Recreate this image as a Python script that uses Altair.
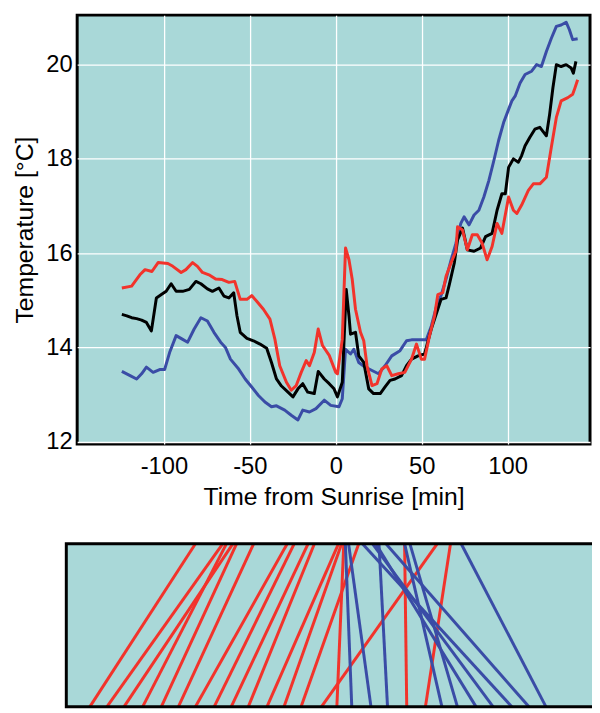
import altair as alt
import pandas as pd

# ---------------- top panel data (time from sunrise [min], temperature [deg C]) ----------------
blue_t = [-124.5, -119.7, -115.9, -113, -110.2, -106.3, -102.5, -99.6, -96.7, -92.9, -89.1, -86.2,
          -82.4, -78.5, -74.7, -70.9, -67, -64.2, -61.3, -56.5, -52.7, -48.9, -45, -41.2, -37.4,
          -34.5, -29.7, -25.9, -22, -19.2, -15.3, -11.5, -6.7, -2.9, 1.9, 3.8, 5.7, 8.6, 10.5,
          13.4, 17.2, 21.1, 24.9, 28.7, 32.6, 37.4, 41.2, 44.1, 49.8, 52.7, 55.6, 58.5, 61.3,
          64.2, 67.1, 69.9, 72.8, 74.7, 77.6, 80.5, 83.3, 86.2, 89.1, 92, 94.8, 97.7, 100.6,
          102.5, 104.4, 107.3, 110.2, 114, 116.9, 119.7, 122.6, 125.5, 128.4, 131.2, 134.1,
          136, 137.9, 140.8]
blue_temp = [13.49, 13.40, 13.33, 13.44, 13.58, 13.47, 13.53, 13.53, 13.89, 14.25, 14.17, 14.11,
             14.39, 14.63, 14.56, 14.32, 14.11, 14.00, 13.75, 13.54, 13.33, 13.16, 12.98, 12.84,
             12.74, 12.76, 12.67, 12.56, 12.46, 12.67, 12.63, 12.70, 12.88, 12.77, 12.74, 12.91,
             13.96, 13.86, 13.96, 13.68, 13.58, 13.51, 13.44, 13.61, 13.82, 13.93, 14.14, 14.16,
             14.16, 14.16, 14.45, 14.85, 15.10, 15.45, 15.85, 16.20, 16.63, 16.77, 16.60, 16.81,
             16.91, 17.19, 17.54, 17.96, 18.39, 18.77, 19.05, 19.23, 19.33, 19.61, 19.79, 19.86,
             20.00, 19.96, 20.28, 20.56, 20.81, 20.84, 20.90, 20.74, 20.53, 20.55]

black_t = [-124.5, -121.6, -118.8, -115.9, -113, -110.2, -107.3, -104.4, -101.5, -98.7, -95.8,
           -92.9, -89.1, -85.2, -81.4, -78.5, -74.7, -71.8, -68, -65.1, -62.2, -59.4, -57.5,
           -55.6, -51.7, -47.9, -44.1, -40.2, -37.4, -34.5, -31.6, -27.8, -24.9, -22, -19.2,
           -16.3, -12.5, -10.2, -6.7, -3.8, -1, 1, 3.8, 6.1, 7.7, 8.6, 11.5, 13.4, 16.3, 19.2,
           22, 25.9, 28.7, 31.6, 34.5, 38.3, 41.2, 44.1, 47.9, 51.7, 55.6, 59.4, 61.3, 64.2,
           66.1, 69, 70.9, 73.8, 76.6, 80.5, 84.3, 87.2, 91, 93.9, 96.7, 98.7, 100.6, 103.4,
           106.3, 108.2, 110.2, 113, 115.9, 118.8, 122.6, 124.5, 126.4, 128.4, 131.2, 134.1,
           137, 138.3, 139.8]
black_temp = [14.70, 14.67, 14.63, 14.61, 14.58, 14.53, 14.35, 15.05, 15.12, 15.19, 15.35, 15.19,
              15.19, 15.23, 15.40, 15.35, 15.24, 15.19, 15.26, 15.09, 15.05, 15.16, 14.67, 14.32,
              14.19, 14.14, 14.07, 13.98, 13.68, 13.33, 13.18, 13.05, 12.95, 13.12, 13.23, 13.05,
              13.02, 13.49, 13.33, 13.23, 13.12, 12.95, 13.26, 15.23, 14.67, 14.28, 14.32, 13.82,
              13.68, 13.12, 13.02, 13.02, 13.16, 13.30, 13.33, 13.40, 13.61, 13.75, 13.82, 13.86,
              14.39, 14.81, 15.02, 15.05, 15.33, 15.79, 16.28, 16.53, 16.07, 16.04, 16.11, 16.35,
              16.42, 16.91, 17.26, 17.26, 17.82, 18.00, 17.93, 18.07, 18.28, 18.46, 18.63, 18.67,
              18.49, 18.95, 19.51, 20.00, 19.96, 20.00, 19.93, 19.82, 20.07]

red_t = [-124.5, -118.8, -114, -111, -107, -103.4, -97.7, -94.8, -90, -87.2, -83.3, -80.5, -77.6,
         -73.8, -69.9, -66.1, -62.2, -58.8, -55.6, -51.7, -48.9, -46, -42.1, -38.3, -35.4, -32.6,
         -28.7, -25.9, -23, -20.1, -17.2, -15.3, -12.5, -10.2, -7.7, -3.8, 0, 1, 3.8, 5.7, 7.7,
         9.6, 11.5, 14.4, 16.3, 18.2, 21.1, 24, 26.8, 29.7, 32.6, 36.4, 40.2, 44.1, 47, 49.8,
         51.7, 54.6, 57.5, 59.4, 62.3, 64.2, 67.1, 69.9, 70.9, 73.8, 76.6, 79.5, 82.4, 85.2,
         88.1, 91, 93.9, 96.7, 100.6, 103.4, 105.4, 108.2, 112.1, 115, 118.8, 122.6, 125.5,
         128.4, 131.2, 135.1, 137.9, 138.9, 140.8]
red_temp = [15.26, 15.30, 15.54, 15.65, 15.61, 15.80, 15.78, 15.72, 15.59, 15.65, 15.80, 15.72,
            15.59, 15.54, 15.45, 15.44, 15.38, 15.40, 15.02, 15.02, 15.10, 14.98, 14.81, 14.60,
            14.17, 13.61, 13.26, 13.09, 13.19, 13.47, 13.72, 13.61, 13.89, 14.39, 14.04, 13.83,
            13.47, 13.44, 14.17, 16.11, 15.86, 15.44, 14.81, 14.32, 14.14, 13.61, 13.19, 13.23,
            13.54, 13.61, 13.40, 13.44, 13.47, 13.75, 14.07, 13.75, 13.75, 14.25, 14.67, 15.12,
            15.16, 15.51, 15.79, 16.04, 16.56, 16.49, 16.07, 16.39, 16.39, 16.21, 15.86, 16.14,
            16.63, 16.42, 17.19, 16.91, 16.84, 17.02, 17.33, 17.47, 17.47, 17.61, 18.25, 18.88,
            19.23, 19.30, 19.37, 19.47, 19.68]

x_ticks = [-100, -50, 0, 50, 100]
y_ticks = [12, 14, 16, 18, 20]

# ---------------- bottom panel data (position at top edge -> position at bottom edge, 0-100) ----------------
red_top = [24.2, 29.3, 30.0, 31.2, 31.9, 35.1, 41.4, 42.7, 45.3, 46.5, 51.0, 51.6, 54.8, 69.5, 52.0, 63.4, 72.0]
red_bottom = [4.4, 7.6, 14.3, 10.8, 17.8, 21.0, 24.2, 27.7, 30.9, 34.1, 37.6, 40.8, 44.0, 47.8, 50.7, 63.8, 67.3]
blue_top = [52.3, 52.9, 58.6, 55.5, 57.4, 58.0, 59.9, 63.4, 64.4, 74.0]
blue_bottom = [53.5, 57.1, 60.2, 83.5, 80.0, 76.8, 86.7, 70.4, 73.3, 89.9]

RED = "#f2332b"
BLUE = "#3a4ca6"
TEAL = "#a9d8d8"

rows = []
for name, ts, vs in [("blue", blue_t, blue_temp), ("black", black_t, black_temp), ("red", red_t, red_temp)]:
    for t, v in zip(ts, vs):
        rows.append({"t": t, "temp": v, "series": name})
df = pd.DataFrame(rows)

seg_rows = []
for name, tops, bots in [("red", red_top, red_bottom), ("blue", blue_top, blue_bottom)]:
    for a, b in zip(tops, bots):
        seg_rows.append({"bx": a, "bx2": b, "by": 1.0, "by2": 0.0, "series": name})
seg = pd.DataFrame(seg_rows)
box = pd.DataFrame([{"bx": 0.0, "bx2": 100.0, "by": 0.0, "by2": 1.0}])

color_scale = alt.Scale(domain=["blue", "black", "red"], range=[BLUE, "#000000", RED])

top = alt.Chart(df).mark_line(strokeWidth=3, strokeJoin="round").encode(
    x=alt.X("t:Q", scale=alt.Scale(domain=[-150.5, 148], nice=False, zero=False),
            axis=alt.Axis(values=x_ticks, title="Time from Sunrise [min]", labelPadding=11, titlePadding=6,
                          labelExpr="toString(datum.value)")),
    y=alt.Y("temp:Q", scale=alt.Scale(domain=[11.95, 21.05], nice=False, zero=False),
            axis=alt.Axis(values=y_ticks, title="Temperature [°C]", labelPadding=5, titlePadding=8)),
    color=alt.Color("series:N", scale=color_scale, legend=None),
)

bx_scale = alt.Scale(domain=[0, 100], range=[-11, 529], nice=False, zero=False)
by_scale = alt.Scale(domain=[0, 1], range=[700, 535], nice=False, zero=False)

bg = alt.Chart(box).mark_rect(fill=TEAL, stroke=None).encode(
    x=alt.X("bx:Q", scale=bx_scale, axis=None), x2="bx2:Q",
    y=alt.Y("by:Q", scale=by_scale, axis=None), y2="by2:Q",
)
segs = alt.Chart(seg).mark_rule(strokeWidth=3).encode(
    x=alt.X("bx:Q", scale=bx_scale, axis=None), x2="bx2:Q",
    y=alt.Y("by:Q", scale=by_scale, axis=None), y2="by2:Q",
    color=alt.Color("series:N", scale=color_scale, legend=None),
)
frame = alt.Chart(box).mark_rect(fill=None, stroke="black", strokeWidth=3, filled=False).encode(
    x=alt.X("bx:Q", scale=bx_scale, axis=None), x2="bx2:Q",
    y=alt.Y("by:Q", scale=by_scale, axis=None), y2="by2:Q",
)

bottom = alt.layer(bg, segs, frame)

chart = alt.layer(top, bottom).resolve_scale(x="independent", y="independent").properties(
    width=519, height=434,
    autosize=alt.AutoSizeParams(type="none"),
    padding={"left": 70, "top": 3, "right": 2, "bottom": 268},
).configure_view(
    fill=TEAL, stroke="black", strokeWidth=3,
).configure_axis(
    labelFont="Liberation Sans", titleFont="Liberation Sans",
    labelFontSize=24, titleFontSize=25, titleFontWeight="normal",
    labelColor="black", titleColor="black",
    ticks=False, domain=False,
    grid=True, gridColor="white", gridWidth=1.3, gridOpacity=1,
)

chart.save("out.html", embed_options={"renderer": "svg", "actions": False})
